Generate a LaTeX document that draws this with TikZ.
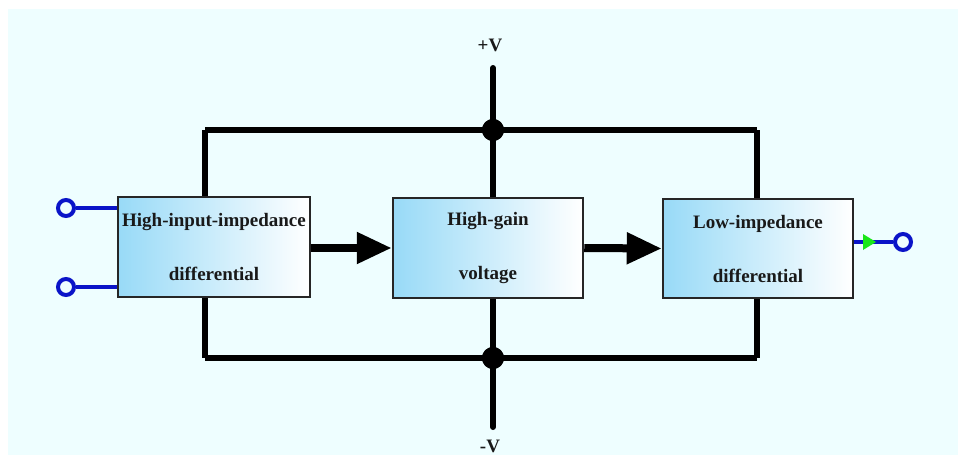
\documentclass[tikz,border=0pt]{standalone}
\usepackage{fontspec}
\setmainfont{Liberation Serif}
\usetikzlibrary{arrows.meta}
\definecolor{bg}{HTML}{EEFEFF}
\definecolor{boxl}{HTML}{98DAF7}
\definecolor{wire}{HTML}{0A14C8}
\definecolor{tipg}{HTML}{19E619}
\begin{document}
\begin{tikzpicture}[x=1pt,y=-1pt,
  blockbox/.style={draw=black!85,line width=2.5pt,left color=boxl,right color=white,
    inner sep=0pt,align=center,font=\fontsize{19}{54}\selectfont\bfseries,text=black!90},
  bus/.style={line width=6pt,black},
  flow/.style={line width=8pt,black,-{Triangle[length=35pt,width=30pt]}},
  wireline/.style={line width=4pt,wire},
  term/.style={circle,draw=wire,line width=4pt,fill=bg,minimum size=16pt,inner sep=0pt},
  dot/.style={circle,fill=black,minimum size=22pt,inner sep=0pt},
  vlabel/.style={font=\fontsize{19}{20}\selectfont\bfseries,text=black!90}]
\useasboundingbox (0,0) rectangle (959,455);
\fill[bg] (8,9) rectangle (958,455);
% bus coordinates
\coordinate (tl) at (205,130);
\coordinate (tr) at (757,130);
\coordinate (bl) at (205,358);
\coordinate (br) at (757,358);
\coordinate (vtop) at (493,68);
\coordinate (vbot) at (493,427);
\node[dot] (jt) at (493,130) {};
\node[dot] (jb) at (493,358) {};
\draw[bus] (tl) -- (tr);
\draw[bus] (bl) -- (br);
\draw[bus] (tl) -- (bl);
\draw[bus] (tr) -- (br);
\draw[bus,line cap=round] (vtop) -- (vbot);
\node[dot] at (jt) {};
\node[dot] at (jb) {};
% blocks
\node[blockbox,minimum width=192pt,minimum height=100pt] (b1) at (214,247) {High-input-impedance\\differential};
\node[blockbox,minimum width=190pt,minimum height=100pt] (b2) at (488,248) {High-gain\\voltage};
\node[blockbox,minimum width=190pt,minimum height=99pt] (b3) at (758,248.5) {Low-impedance\\differential};
% arrows
\draw[flow] (b1.east |- b2.west) -- (b2.west);
\draw[flow] (b2.east) -- (b3.west -| b3.west);
% labels
\node[vlabel] (pv) at (490,45) {+V};
\node[vlabel] (nv) at (490,446) {-V};
% inputs
\node[term] (in1) at (66,208) {};
\node[term] (in2) at (66,287) {};
\draw[wireline] (in1.east) -- (in1.east -| b1.west);
\draw[wireline] (in2.east) -- (in2.east -| b1.west);
% output
\node[term] (out) at (903,242) {};
\coordinate (o1) at (b3.east |- out);
\draw[wireline] (o1) -- (out.west);
\fill[tipg] (863,234) -- (876,242) -- (863,250) -- cycle;
\end{tikzpicture}
\end{document}
